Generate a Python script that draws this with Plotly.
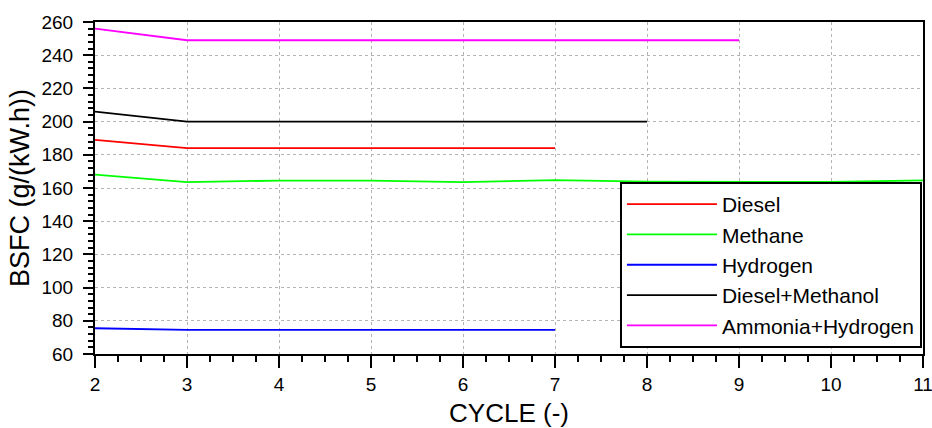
import plotly.graph_objects as go

cycles = [2, 3, 4, 5, 6, 7, 8, 9, 10, 11]

diesel = [189, 184, 184, 184, 184, 184]
methane = [168, 163.5, 164.5, 164.5, 163.5, 164.8, 163.8, 163.6, 163.6, 164.6]
hydrogen = [75.5, 74.5, 74.5, 74.5, 74.5, 74.5]
diesel_methanol = [206, 200, 200, 200, 200, 200, 200]
ammonia_hydrogen = [256, 249, 249, 249, 249, 249, 249, 249]

series = [
    ('Diesel', diesel, '#ff0000'),
    ('Methane', methane, '#00ff00'),
    ('Hydrogen', hydrogen, '#0000ff'),
    ('Diesel+Methanol', diesel_methanol, '#000000'),
    ('Ammonia+Hydrogen', ammonia_hydrogen, '#ff00ff'),
]

FONT = 'Liberation Sans, Arial'

fig = go.Figure()
for name, vals, color in series:
    fig.add_trace(go.Scatter(x=cycles[:len(vals)], y=vals, name=name,
                             mode='lines', legendgroup=name,
                             line=dict(color=color, width=1.8)))

axis_common = dict(
    showline=True, linecolor='black', linewidth=2, mirror=True,
    ticks='outside', tickcolor='black', tickwidth=2, automargin=False,
    showgrid=True, gridcolor='#b4b4b4', griddash='dot', gridwidth=1,
    zeroline=False, ticklabeloverflow='allow',
    tickfont=dict(family=FONT, size=19, color='black'),
)

fig.update_xaxes(range=[2, 11], dtick=1, ticklen=12,
                 minor=dict(dtick=0.25, ticks='outside', ticklen=6, tickcolor='black', tickwidth=2),
                 title=dict(text='CYCLE (-)', font=dict(family=FONT, size=26, color='black'), standoff=10),
                 **axis_common)
fig.update_yaxes(range=[60, 260], dtick=20, ticklen=10, ticklabelstandoff=6,
                 minor=dict(dtick=4, ticks='outside', ticklen=5, tickcolor='black', tickwidth=2),
                 title=dict(text='BSFC (g/(kW.h))', font=dict(family=FONT, size=27, color='black'), standoff=4),
                 **axis_common)

fig.update_layout(
    width=932, height=428,
    margin=dict(l=95, r=9, t=22, b=74),
    plot_bgcolor='white', paper_bgcolor='white',
    legend=dict(x=0.634, y=0.518, xanchor='left', yanchor='top',
                bgcolor='white', bordercolor='black', borderwidth=2,
                font=dict(family=FONT, size=21, color='black'),
                itemwidth=90, tracegroupgap=5, traceorder='normal'),
)

# drop the default page margin so the figure fills the window
fig.write_html("out.html", config={'displayModeBar': False},
               post_script="document.body.style.margin='0';")
